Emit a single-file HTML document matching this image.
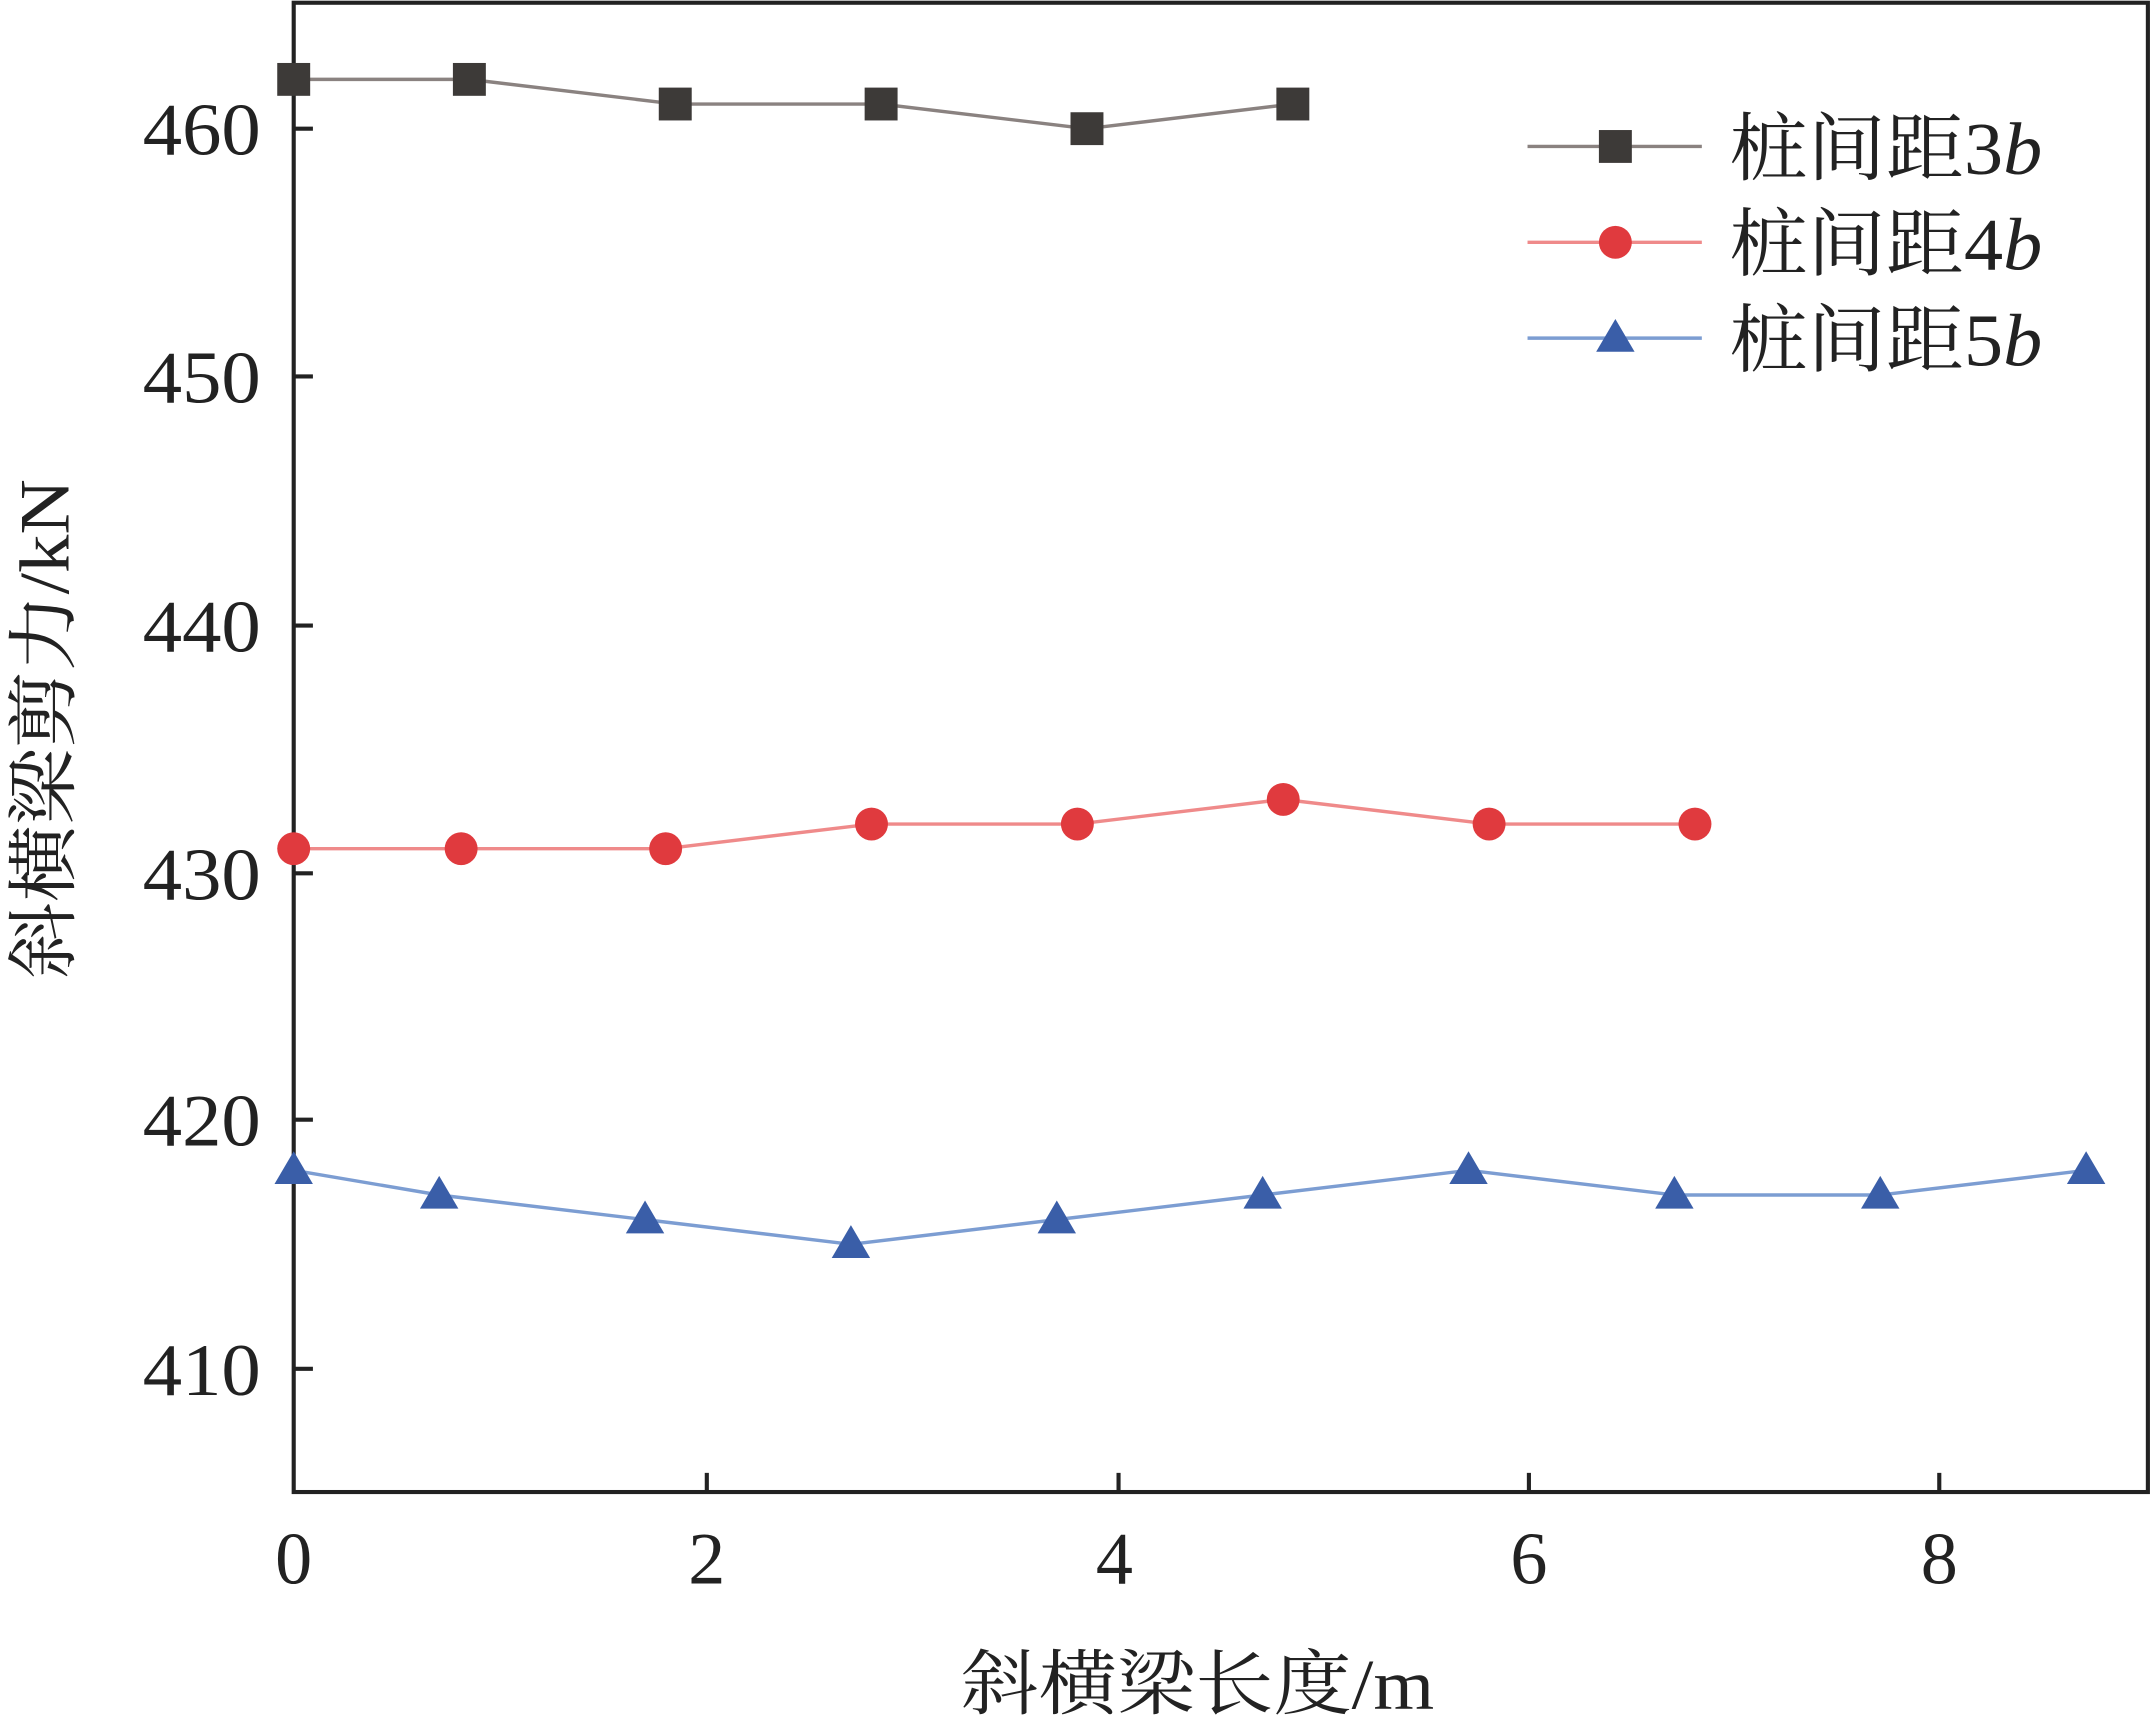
<!DOCTYPE html>
<html><head><meta charset="utf-8"><style>html,body{margin:0;padding:0;background:#fff}svg{display:block}</style></head>
<body>
<svg width="2152" height="1722" viewBox="0 0 1568 1258" preserveAspectRatio="none" xmlns="http://www.w3.org/2000/svg" font-family="'Liberation Serif','Noto Serif CJK SC',serif">
<rect x="214" y="2" width="1351" height="1088" fill="none" stroke="#222" stroke-width="3"/>
<g stroke="#222" stroke-width="3">
<line x1="214" y1="94" x2="228" y2="94"/><line x1="214" y1="275" x2="228" y2="275"/><line x1="214" y1="457" x2="228" y2="457"/><line x1="214" y1="638" x2="228" y2="638"/><line x1="214" y1="818" x2="228" y2="818"/><line x1="214" y1="1000" x2="228" y2="1000"/>
<line x1="515" y1="1090" x2="515" y2="1076"/><line x1="815" y1="1090" x2="815" y2="1076"/><line x1="1114" y1="1090" x2="1114" y2="1076"/><line x1="1413" y1="1090" x2="1413" y2="1076"/>
</g>
<g font-size="54" fill="#222">
<text x="104" y="113" textLength="86" lengthAdjust="spacingAndGlyphs">460</text>
<text x="104" y="294" textLength="86" lengthAdjust="spacingAndGlyphs">450</text>
<text x="104" y="476" textLength="86" lengthAdjust="spacingAndGlyphs">440</text>
<text x="104" y="657" textLength="86" lengthAdjust="spacingAndGlyphs">430</text>
<text x="104" y="837" textLength="86" lengthAdjust="spacingAndGlyphs">420</text>
<text x="104" y="1019" textLength="86" lengthAdjust="spacingAndGlyphs">410</text>
</g>
<g font-size="54" fill="#222" text-anchor="middle">
<text x="214" y="1157">0</text><text x="515" y="1157">2</text><text x="812" y="1157">4</text><text x="1114" y="1157">6</text><text x="1413" y="1157">8</text>
</g>
<text x="700" y="1248" font-size="52" fill="#222" textLength="345" lengthAdjust="spacingAndGlyphs">斜横梁长度/m</text>
<text transform="translate(50,715) rotate(-90)" font-size="52" fill="#222" textLength="365" lengthAdjust="spacingAndGlyphs">斜横梁剪力/kN</text>
<polyline fill="none" stroke="#8a8280" stroke-width="2.5" points="214,58 342,58 492,76 642,76 792,94 942,76"/>
<g fill="#3d3a38">
<rect x="202" y="46" width="24" height="24"/><rect x="330" y="46" width="24" height="24"/><rect x="480" y="64" width="24" height="24"/><rect x="630" y="64" width="24" height="24"/><rect x="780" y="82" width="24" height="24"/><rect x="930" y="64" width="24" height="24"/>
</g>
<polyline fill="none" stroke="#ef8a8a" stroke-width="2.5" points="214,620 336,620 485,620 635,602 785,602 935,584 1085,602 1235,602"/>
<g fill="#e03a3e">
<circle cx="214" cy="620" r="12"/><circle cx="336" cy="620" r="12"/><circle cx="485" cy="620" r="12"/><circle cx="635" cy="602" r="12"/><circle cx="785" cy="602" r="12"/><circle cx="935" cy="584" r="12"/><circle cx="1085" cy="602" r="12"/><circle cx="1235" cy="602" r="12"/>
</g>
<polyline fill="none" stroke="#7c9dd2" stroke-width="2.5" points="214,855 320,873 470,891 620,909 770,891 920,873 1070,855 1220,873 1370,873 1520,855"/>
<g fill="#3a5ea8">
<polygon points="214,841 200,865 228,865"/><polygon points="320,859 306,883 334,883"/><polygon points="470,877 456,901 484,901"/><polygon points="620,895 606,919 634,919"/><polygon points="770,877 756,901 784,901"/><polygon points="920,859 906,883 934,883"/><polygon points="1070,841 1056,865 1084,865"/><polygon points="1220,859 1206,883 1234,883"/><polygon points="1370,859 1356,883 1384,883"/><polygon points="1520,841 1506,865 1534,865"/>
</g>
<line x1="1113" y1="107" x2="1240" y2="107" stroke="#8a8280" stroke-width="2.5"/>
<rect x="1165" y="95" width="24" height="24" fill="#3d3a38"/>
<line x1="1113" y1="177" x2="1240" y2="177" stroke="#ef8a8a" stroke-width="2.5"/>
<circle cx="1177" cy="177" r="12" fill="#e03a3e"/>
<line x1="1113" y1="247" x2="1240" y2="247" stroke="#7c9dd2" stroke-width="2.5"/>
<polygon points="1177,233 1163,257 1191,257" fill="#3a5ea8"/>
<g font-size="54" fill="#222">
<text x="1260" y="127" textLength="228" lengthAdjust="spacingAndGlyphs">桩间距3<tspan font-style="italic">b</tspan></text>
<text x="1260" y="197" textLength="228" lengthAdjust="spacingAndGlyphs">桩间距4<tspan font-style="italic">b</tspan></text>
<text x="1260" y="267" textLength="228" lengthAdjust="spacingAndGlyphs">桩间距5<tspan font-style="italic">b</tspan></text>
</g>
</svg>
</body></html>
